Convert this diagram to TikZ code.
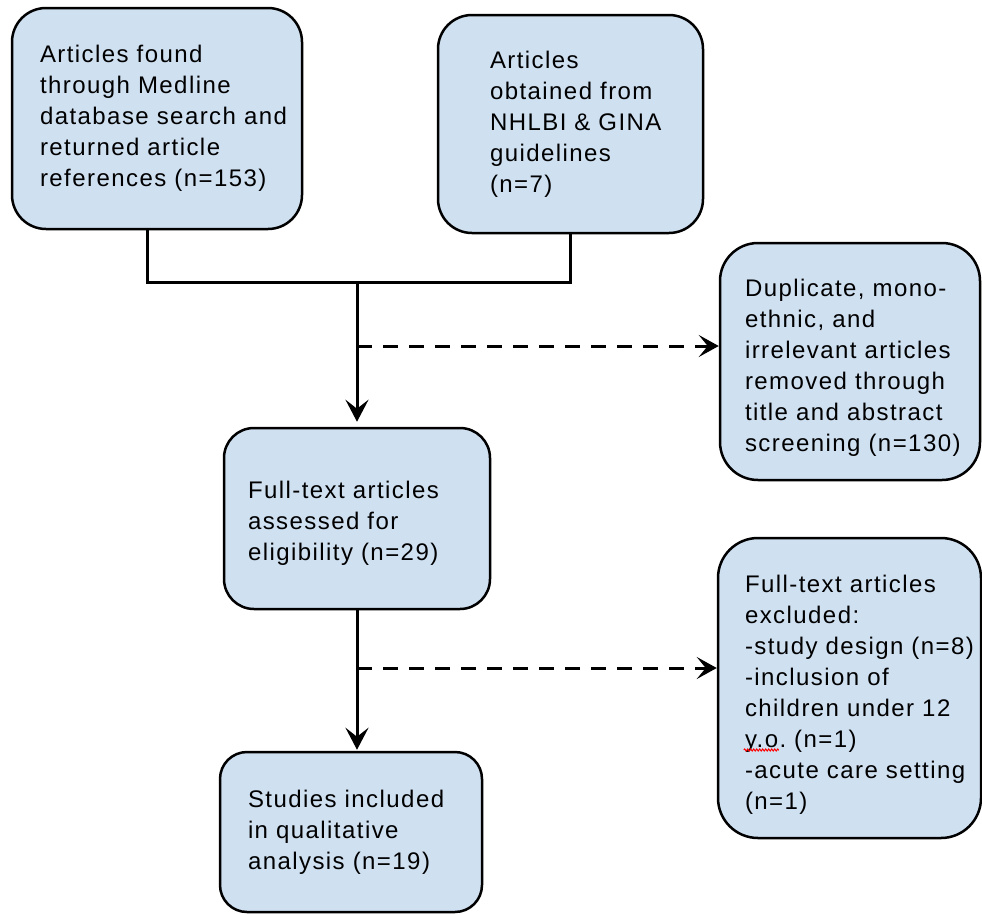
\documentclass[tikz,border=0pt]{standalone}
\usepackage{fontspec}
\setmainfont[LetterSpace=6]{Liberation Sans}
\usetikzlibrary{arrows.meta,decorations.pathmorphing}
\definecolor{boxfill}{RGB}{207,224,241}
\tikzset{
  flowbox/.style={draw=black, line width=2.5pt, fill=boxfill, align=left,
    font=\fontsize{24}{31}\selectfont\frenchspacing, inner ysep=0pt, anchor=center},
  conn/.style={line width=3pt},
  arr/.style={conn, -{Stealth[length=22pt,width=23pt,inset=9pt]}},
  darr/.style={conn, dash pattern=on 15pt off 11pt, -{Stealth[length=20pt,width=22pt,inset=9pt]}},
  spellwave/.style={red, line width=1pt, decorate, decoration={snake, amplitude=1pt, segment length=3pt}}
}
\begin{document}
\begin{tikzpicture}[x=1pt,y=-1pt]
\useasboundingbox (0,0) rectangle (982,913);
\node[flowbox, rounded corners=34pt, minimum width=290pt, minimum height=221pt,
  inner xsep=28pt, text width=234pt] (A) at (157,118.5)
  {\mbox{Articles found}\\\mbox{through Medline}\\\mbox{database search and}\\\mbox{returned article}\\\mbox{references (n=153)}};
\node[flowbox, rounded corners=34pt, minimum width=265pt, minimum height=218pt,
  inner xsep=0pt, text width=161pt] (B) at (570.5,124)
  {\mbox{Articles}\\\mbox{obtained from}\\\mbox{NHLBI \& GINA}\\\mbox{guidelines}\\\mbox{(n=7)}};
\node[flowbox, rounded corners=38pt, minimum width=260pt, minimum height=237pt,
  inner xsep=25pt, text width=210pt] (C) at (850,361.5)
  {\rule{0pt}{30pt}\mbox{Duplicate, mono-}\\\mbox{ethnic, and}\\\mbox{irrelevant articles}\\\mbox{removed through}\\\mbox{title and abstract}\\\mbox{screening (n=130)}};
\node[flowbox, rounded corners=30pt, minimum width=266pt, minimum height=181pt,
  inner xsep=24pt, text width=218pt] (D) at (357,518.5)
  {\rule{0pt}{26pt}\mbox{Full-text articles}\\\mbox{assessed for}\\\mbox{eligibility (n=29)}};
\node[flowbox, rounded corners=27pt, minimum width=262pt, minimum height=160pt,
  inner xsep=28pt, text width=206pt] (E) at (351,832)
  {\mbox{Studies included}\\\mbox{in qualitative}\\\mbox{analysis (n=19)}};
\node[flowbox, rounded corners=40pt, minimum width=263pt, minimum height=300pt,
  inner xsep=27pt, text width=209pt] (F) at (849.5,688)
  {\rule{0pt}{30pt}\mbox{Full-text articles}\\\mbox{excluded:}\\\mbox{-study design (n=8)}\\\mbox{-inclusion of}\\\mbox{children under 12}\\\mbox{y.o. (n=1)}\\\mbox{-acute care setting}\\\mbox{(n=1)}};
\coordinate (j) at (357,282);
\coordinate (k1) at (357,346);
\coordinate (k2) at (357,668);
\coordinate (w1) at ([xshift=27pt,yshift=-62pt]F.west);
\coordinate (w2) at ([xshift=62pt,yshift=-62pt]F.west);
\draw[conn] ([xshift=-10pt]A.south) |- (j) -| (B.south);
\draw[arr, shorten >=5pt] (j) -- (D.north);
\draw[darr] (k1) -- (C.west |- k1);
\draw[arr, shorten >=1pt] (D.south) -- (D.south |- E.north);
\draw[darr] (k2) -- (F.west |- k2);
\draw[spellwave] (w1) -- (w2);
\end{tikzpicture}
\end{document}
